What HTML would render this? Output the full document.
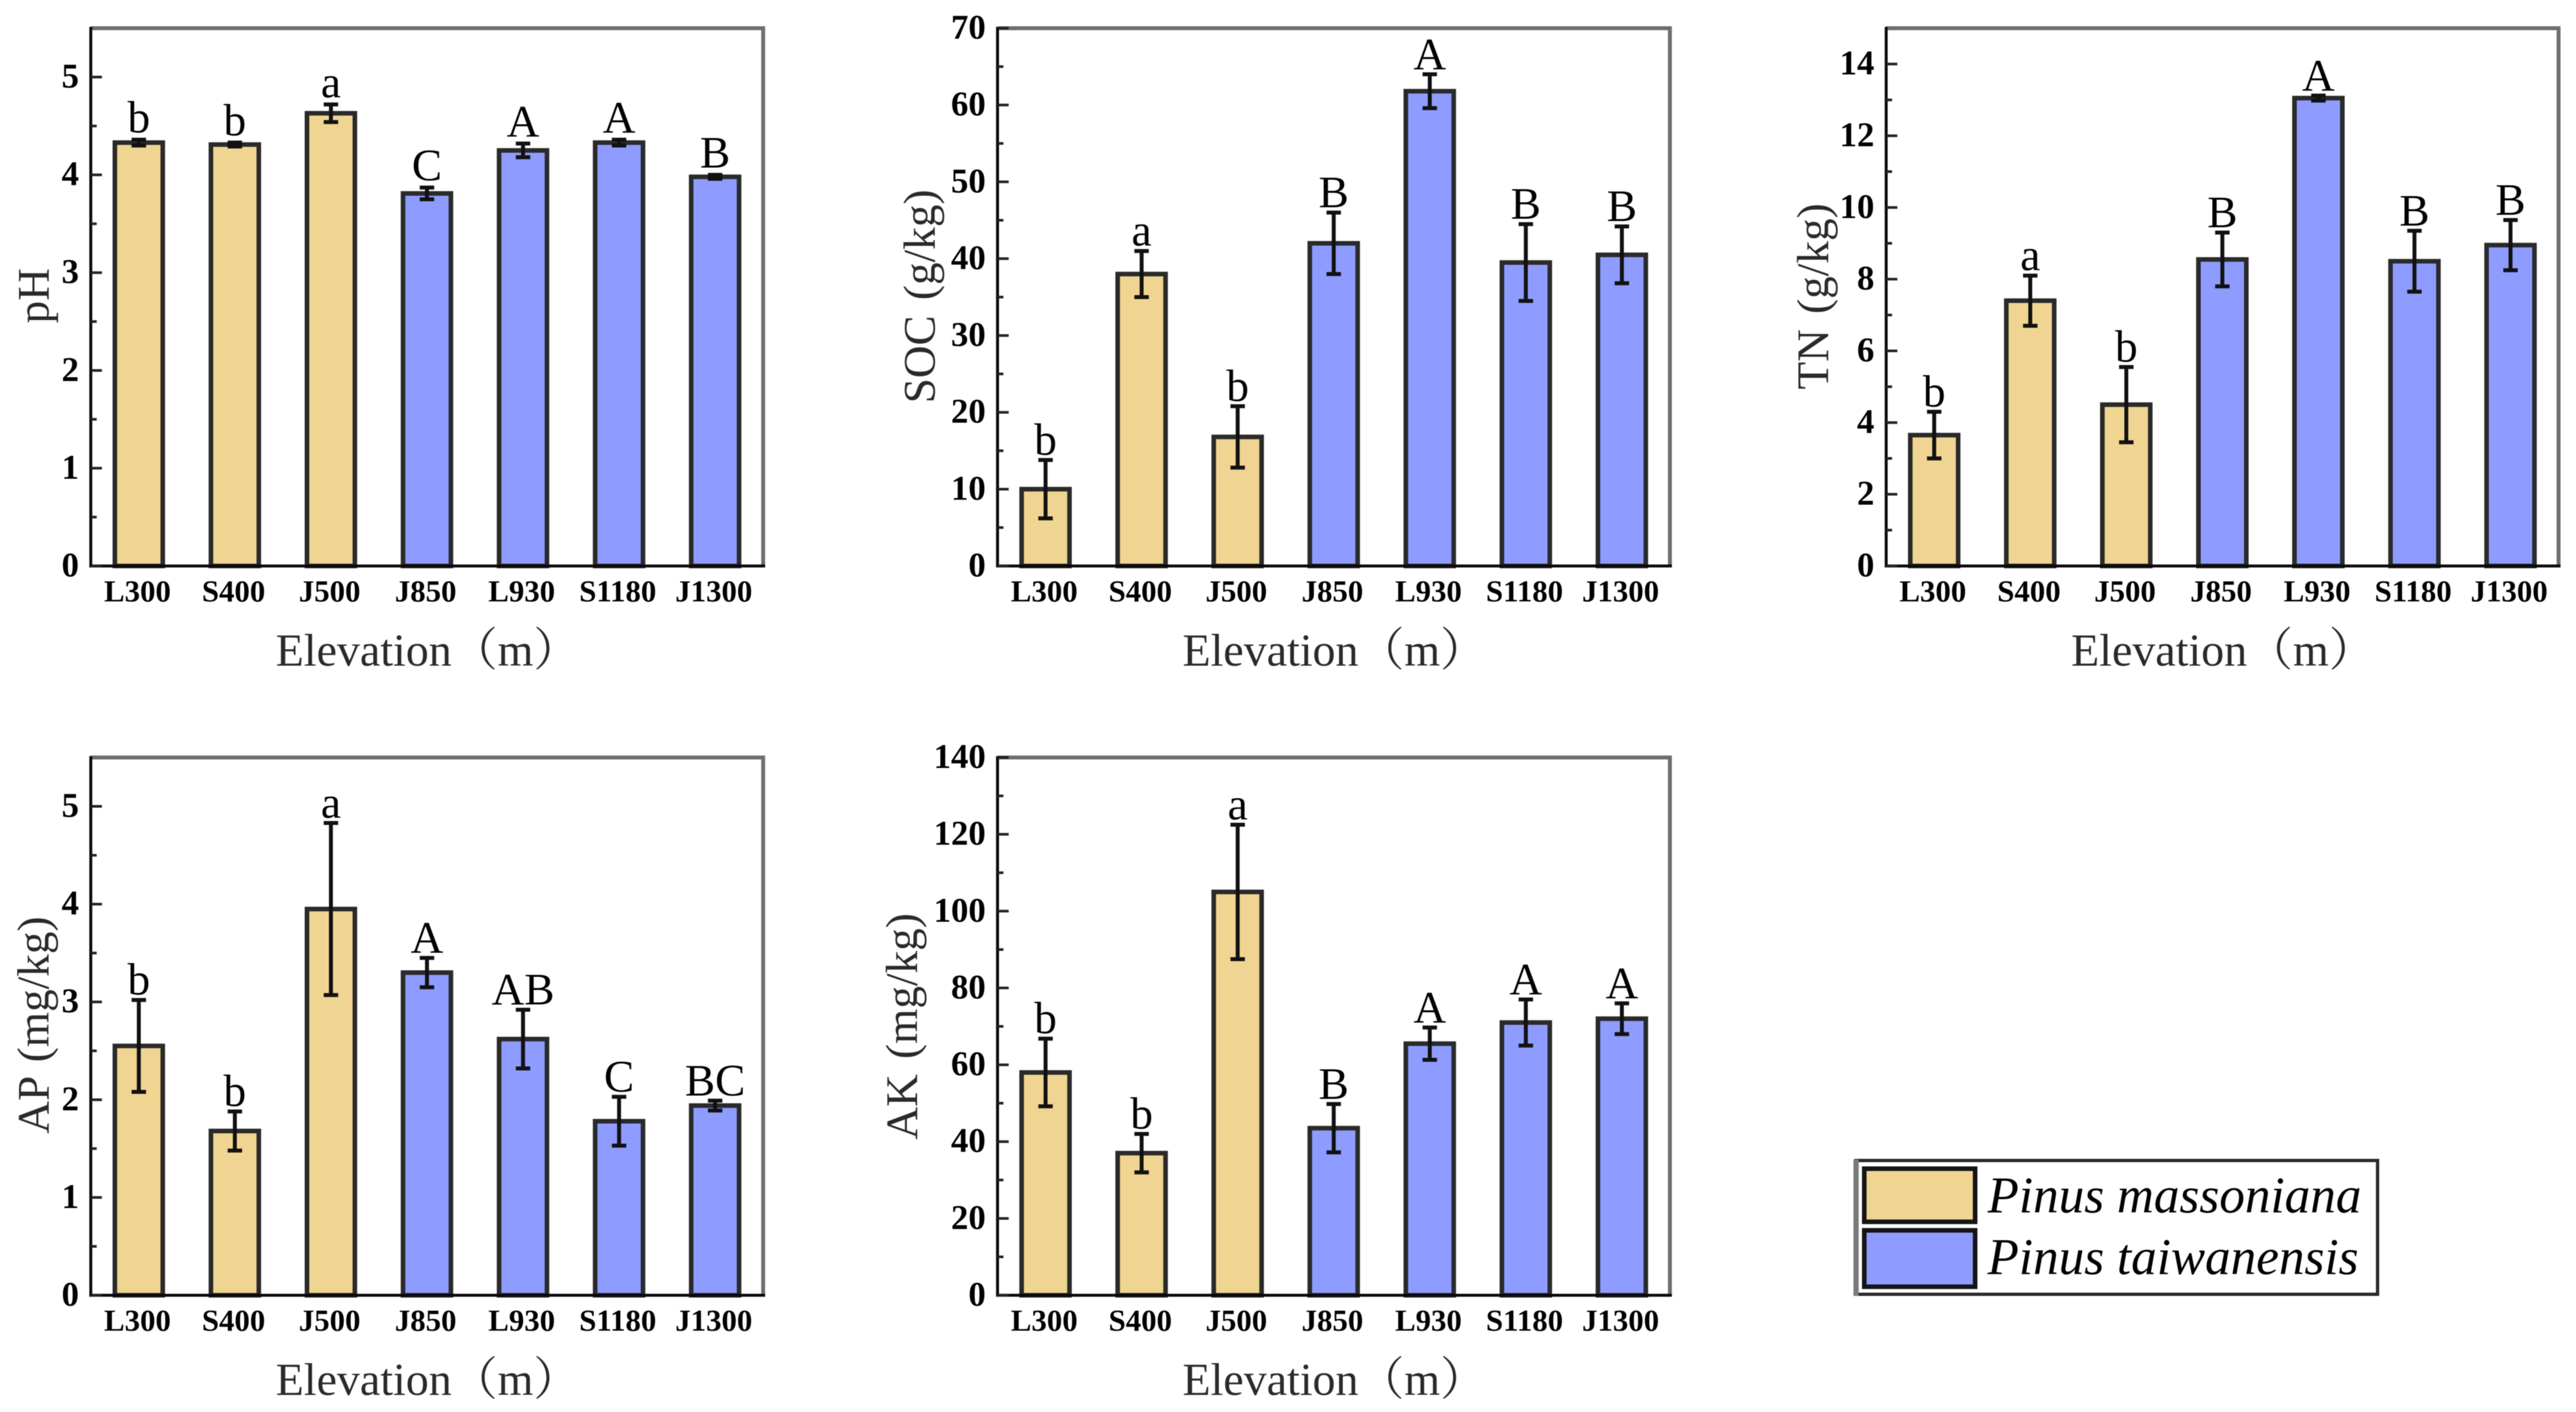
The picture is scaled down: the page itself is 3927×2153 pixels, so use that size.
<!DOCTYPE html>
<html lang="en">
<head>
<meta charset="utf-8">
<title>Soil properties by elevation</title>
<style>
html,body{margin:0;padding:0;background:#fff;}
svg{display:block;filter:blur(0.6px);}
text{font-family:"Liberation Serif","Noto Serif CJK SC",serif;}
</style>
</head>
<body>
<svg id="figure" xmlns="http://www.w3.org/2000/svg" width="3927" height="2153" viewBox="0 0 3927 2153">
  <rect x="0" y="0" width="3927" height="2153" fill="#fff"/>
  <g>
    <rect x="2829.5" y="1769.5" width="795" height="204" fill="#fff" stroke="#2a2a2a" stroke-width="5"/>
    <line x1="2829.5" x2="2829.5" y1="1768" y2="1976" stroke="#7a7a7a" stroke-width="8"/>
    <rect x="2842" y="1782" width="169" height="81" fill="#F0D592" stroke="#151515" stroke-width="7"/>
    <text x="3030" y="1848.5" font-size="78" font-style="italic" fill="#000">Pinus massoniana</text>
    <rect x="2842" y="1876" width="169" height="86" fill="#8F9CFF" stroke="#151515" stroke-width="7"/>
    <text x="3030" y="1942.5" font-size="78" font-style="italic" fill="#000">Pinus taiwanensis</text>
  </g>
</svg>
<script>
// Shared categories
const categories = ["L300","S400","J500","J850","L930","S1180","J1300"];
const species = ["massoniana","massoniana","massoniana","taiwanensis","taiwanensis","taiwanensis","taiwanensis"];

// pH
const phValues = [4.33,4.31,4.63,3.81,4.25,4.33,3.98];
const phErrors = [0.03,0.02,0.09,0.06,0.07,0.03,0.02];
const phLetters = ["b","b","a","C","A","A","B"];
const phTicks = [0,1,2,3,4,5];
const phMinorTicks = [0.5,1.5,2.5,3.5,4.5];

// SOC
const socValues = [10,38,16.8,42,61.8,39.5,40.5];
const socErrors = [3.8,3,4,4,2.2,5,3.7];
const socLetters = ["b","a","b","B","A","B","B"];
const socTicks = [0,10,20,30,40,50,60,70];
const socMinorTicks = [5,15,25,35,45,55,65];

// TN
const tnValues = [3.65,7.4,4.5,8.55,13.05,8.5,8.95];
const tnErrors = [0.65,0.7,1.05,0.75,0.07,0.85,0.7];
const tnLetters = ["b","a","b","B","A","B","B"];
const tnTicks = [0,2,4,6,8,10,12,14];
const tnMinorTicks = [1,3,5,7,9,11,13];

// AP
const apValues = [2.55,1.68,3.95,3.3,2.62,1.78,1.94];
const apErrors = [0.47,0.2,0.88,0.15,0.3,0.25,0.05];
const apLetters = ["b","b","a","A","AB","C","BC"];
const apTicks = [0,1,2,3,4,5];
const apMinorTicks = [0.5,1.5,2.5,3.5,4.5];

// AK
const akValues = [58,37,105,43.5,65.5,71,72];
const akErrors = [8.8,5,17.5,6.3,4.2,6,4];
const akLetters = ["b","b","a","B","A","A","A"];
const akTicks = [0,20,40,60,80,100,120,140];
const akMinorTicks = [10,30,50,70,90,110,130];

const NS = "http://www.w3.org/2000/svg";
const figure = document.getElementById("figure");
const speciesFill = {massoniana:"#F0D592", taiwanensis:"#8F9CFF"};
const plotWidth = 1025;
const plotHeight = 820;
const barWidth = 73;

function make(parent, tag, attrs, content) {
  const el = document.createElementNS(NS, tag);
  for (const k in attrs) el.setAttribute(k, attrs[k]);
  if (content !== undefined) el.textContent = content;
  parent.appendChild(el);
  return el;
}

function drawPanel(id, left, top, yMax, yTitle, yTitleX, yTitleY, letterGap, values, errors, letters, ticks, minorTicks) {
  const right = left + plotWidth;
  const bottom = top + plotHeight;
  const xScale = function (i) { return left + (i + 0.5) * plotWidth / categories.length; };
  const yScale = function (v) { return bottom - (v / yMax) * plotHeight; };

  const g = make(figure, "g", {});
  
  

  values.forEach(function (v, i) {
    const bar = make(g, "rect", {
      x: xScale(i) - barWidth / 2, y: yScale(v),
      width: barWidth, height: bottom - yScale(v),
      fill: speciesFill[species[i]], stroke: "#2a2a2a", "stroke-width": 7
    });
    
    

    const hi = yScale(v + errors[i]);
    const lo = yScale(v - errors[i]);
    const cx = xScale(i);
    const err = make(g, "path", {
      d: "M" + cx + " " + hi + "V" + lo + "M" + (cx - 11) + " " + hi + "H" + (cx + 11) + "M" + (cx - 11) + " " + lo + "H" + (cx + 11),
      fill: "none", stroke: "#111", "stroke-width": 6
    });
    
    

    const letter = make(g, "text", {
      x: cx, y: hi - letterGap, "font-size": 69, "text-anchor": "middle", fill: "#000"
    }, letters[i]);
    
    

    const tick = make(g, "text", {
      x: cx - 2, y: bottom + 54, "font-size": 47, "font-weight": "bold", "text-anchor": "middle", fill: "#000"
    }, categories[i]);
    
    
  });

  const frameTop = make(g, "path", {
    d: "M" + left + " " + top + "H" + right + "V" + bottom,
    fill: "none", stroke: "#6e6e6e", "stroke-width": 6
  });
  
  

  const axes = make(g, "path", {
    d: "M" + left + " " + (top - 2) + "V" + bottom + "H" + (right + 3),
    fill: "none", stroke: "#0a0a0a", "stroke-width": 4.5
  });
  
  

  ticks.forEach(function (t) {
    const y = yScale(t);
    const mark = make(g, "line", {x1: left, x2: left + 17, y1: y, y2: y, stroke: "#222", "stroke-width": 4});
    
    
    const lab = make(g, "text", {
      x: left - 18, y: y + 16, "font-size": 53, "font-weight": "bold", "text-anchor": "end", fill: "#000"
    }, String(t));
    
    
  });

  minorTicks.forEach(function (t) {
    const y = yScale(t);
    const mark = make(g, "line", {x1: left, x2: left + 9, y1: y, y2: y, stroke: "#222", "stroke-width": 4});
    
    
  });

  const xt = make(g, "text", {
    x: left + 282, y: bottom + 152, "font-size": 70, fill: "#2a2a2a"
  }, "Elevation（m）");
  
  

  const yt = make(g, "text", {
    transform: "translate(" + yTitleX + " " + yTitleY + ") rotate(-90)",
    x: 0, y: 0, "font-size": 69, "word-spacing": 6, "text-anchor": "middle", fill: "#2a2a2a"
  }, yTitle);
  
  
}

drawPanel("ph", 138.4, 43, 5.5, "pH", 74, 451, 11, phValues, phErrors, phLetters, phTicks, phMinorTicks);
drawPanel("soc", 1520.7, 43, 70, "SOC (g/kg)", 1425, 452, 8, socValues, socErrors, socLetters, socTicks, socMinorTicks);
drawPanel("tn", 2875.4, 43, 15, "TN (g/kg)", 2787, 452, 8, tnValues, tnErrors, tnLetters, tnTicks, tnMinorTicks);
drawPanel("ap", 138.4, 1155, 5.5, "AP (mg/kg)", 74, 1563, 8, apValues, apErrors, apLetters, apTicks, apMinorTicks);
drawPanel("ak", 1520.7, 1155, 140, "AK (mg/kg)", 1398, 1565, 8, akValues, akErrors, akLetters, akTicks, akMinorTicks);
</script>
</body>
</html>
